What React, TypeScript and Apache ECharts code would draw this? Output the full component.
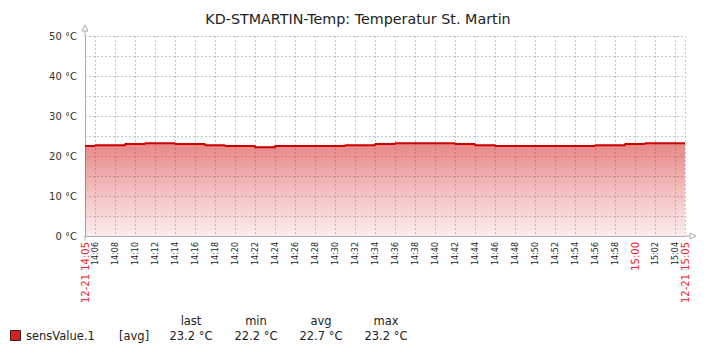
import React, { useEffect, useRef } from "react";
import * as echarts from "echarts";

const TITLE = "KD-STMARTIN-Temp: Temperatur St. Martin";
const DATE_PREFIX = "12-21";

const categories = [
  "14:05", "14:06", "14:07", "14:08", "14:09", "14:10", "14:11", "14:12", "14:13", "14:14",
  "14:15", "14:16", "14:17", "14:18", "14:19", "14:20", "14:21", "14:22", "14:23", "14:24",
  "14:25", "14:26", "14:27", "14:28", "14:29", "14:30", "14:31", "14:32", "14:33", "14:34",
  "14:35", "14:36", "14:37", "14:38", "14:39", "14:40", "14:41", "14:42", "14:43", "14:44",
  "14:45", "14:46", "14:47", "14:48", "14:49", "14:50", "14:51", "14:52", "14:53", "14:54",
  "14:55", "14:56", "14:57", "14:58", "14:59", "15:00", "15:01", "15:02", "15:03", "15:04",
  "15:05",
];

const sensValues = [
  22.5, 22.7, 22.7, 22.7, 23.0, 23.0, 23.2, 23.2, 23.2, 23.0,
  23.0, 23.0, 22.7, 22.7, 22.5, 22.5, 22.5, 22.2, 22.2, 22.5,
  22.5, 22.5, 22.5, 22.5, 22.5, 22.5, 22.7, 22.7, 22.7, 23.0,
  23.0, 23.2, 23.2, 23.2, 23.2, 23.2, 23.2, 23.0, 23.0, 22.7,
  22.7, 22.5, 22.5, 22.5, 22.5, 22.5, 22.5, 22.5, 22.5, 22.5,
  22.5, 22.7, 22.7, 22.7, 23.0, 23.0, 23.2, 23.2, 23.2, 23.2,
  23.2,
];

const redTicks = ["14:05", "15:00", "15:05"];

const legendName = "sensValue.1";
const legendFunc = "[avg]";
const legendHeaders = ["last", "min", "avg", "max"];
const legendStats = ["23.2 °C", "22.2 °C", "22.7 °C", "23.2 °C"];

const FONT = "DejaVu Sans";

export default function App() {
  const ref = useRef<HTMLDivElement>(null);

  useEffect(() => {
    if (!ref.current) return;
    const chart = echarts.init(ref.current, null, { renderer: "svg" });
    const last = categories.length - 1;

    const legendCols = [191, 256, 321, 386];
    const lf = `11.5px "${FONT}"`;
    const graphics: any[] = [
      { type: "line", shape: { x1: 85, y1: 31, x2: 85, y2: 36 }, style: { stroke: "#a8aeb4", lineWidth: 1 } },
      { type: "polygon", shape: { points: [[82, 31], [88, 31], [85, 25]] }, style: { fill: "#fff", stroke: "#a8aeb4", lineWidth: 1 } },
      { type: "line", shape: { x1: 685, y1: 236, x2: 690, y2: 236 }, style: { stroke: "#a8aeb4", lineWidth: 1 } },
      { type: "polygon", shape: { points: [[690, 233], [690, 239], [696, 236]] }, style: { fill: "#fff", stroke: "#a8aeb4", lineWidth: 1 } },
      { type: "line", shape: { x1: 85, y1: 236, x2: 85, y2: 240 }, style: { stroke: "#a8aeb4", lineWidth: 1 } },
      { type: "rect", shape: { x: 10.5, y: 330.5, width: 10, height: 10 }, style: { fill: "#d42222", stroke: "#3a2020", lineWidth: 1 } },
      { type: "text", x: 26, y: 336, style: { text: legendName, font: lf, fill: "#222", verticalAlign: "middle" } },
      { type: "text", x: 119, y: 336, style: { text: legendFunc, font: lf, fill: "#222", verticalAlign: "middle" } },
    ];
    legendHeaders.forEach((h, i) => {
      graphics.push({ type: "text", x: legendCols[i], y: 321, style: { text: h, font: lf, fill: "#222", align: "center", verticalAlign: "middle" } });
      graphics.push({ type: "text", x: legendCols[i], y: 336, style: { text: legendStats[i], font: lf, fill: "#222", align: "center", verticalAlign: "middle" } });
    });

    chart.setOption({
      animation: false,
      backgroundColor: "#ffffff",
      title: {
        text: TITLE,
        left: "center",
        top: 7,
        textStyle: { fontFamily: FONT, fontSize: 14.3, fontWeight: "normal", color: "#222" },
      },
      grid: { left: 85, right: 31, top: 36, bottom: 118, containLabel: false },
      xAxis: {
        type: "category",
        data: categories,
        boundaryGap: false,
        axisLine: { show: true, lineStyle: { color: "#a8aeb4", width: 1 } },
        axisTick: { show: false },
        axisLabel: {
          rotate: 90,
          margin: 6,
          fontFamily: FONT,
          fontSize: 8,
          color: "#222",
          interval: (idx: number) => idx % 2 === 1 || idx === 0 || idx === last,
          formatter: (val: string, idx: number) => {
            if (idx === 0 || idx === last) return `{r|${DATE_PREFIX} ${val}}`;
            if (redTicks.includes(val)) return `{r|${val}}`;
            return val;
          },
          rich: {
            r: { color: "#ee2222", fontSize: 10, fontFamily: FONT },
          },
        },
        splitLine: {
          show: true,
          interval: (idx: number) => idx % 2 === 1 || idx === last,
          lineStyle: { color: "#c4c8cc", type: [2, 2], width: 1 },
        },
      },
      yAxis: {
        type: "value",
        min: 0,
        max: 50,
        interval: 5,
        axisLine: { show: true, lineStyle: { color: "#a8aeb4", width: 1 } },
        axisTick: { show: false },
        axisLabel: {
          margin: 8,
          fontFamily: FONT,
          fontSize: 10,
          color: "#333",
          formatter: (v: number) => (v % 10 === 0 ? `${v} °C` : ""),
        },
        splitLine: {
          show: true,
          lineStyle: { color: "#c4c8cc", type: [2, 2], width: 1 },
        },
      },
      series: [
        {
          type: "line",
          name: legendName,
          data: sensValues,
          step: "end",
          symbol: "none",
          lineStyle: { color: "#cc0000", width: 2 },
          areaStyle: {
            color: new echarts.graphic.LinearGradient(0, 0, 0, 1, [
              { offset: 0, color: "rgba(210,30,30,0.76)" },
              { offset: 1, color: "rgba(220,60,60,0.14)" },
            ]),
          },
          z: 3,
        },
      ],
      graphic: graphics,
    });

    return () => chart.dispose();
  }, []);

  return (
    <div
      ref={ref}
      style={{ position: "fixed", left: 0, top: 0, width: 716, height: 354, background: "#fff" }}
    />
  );
}
